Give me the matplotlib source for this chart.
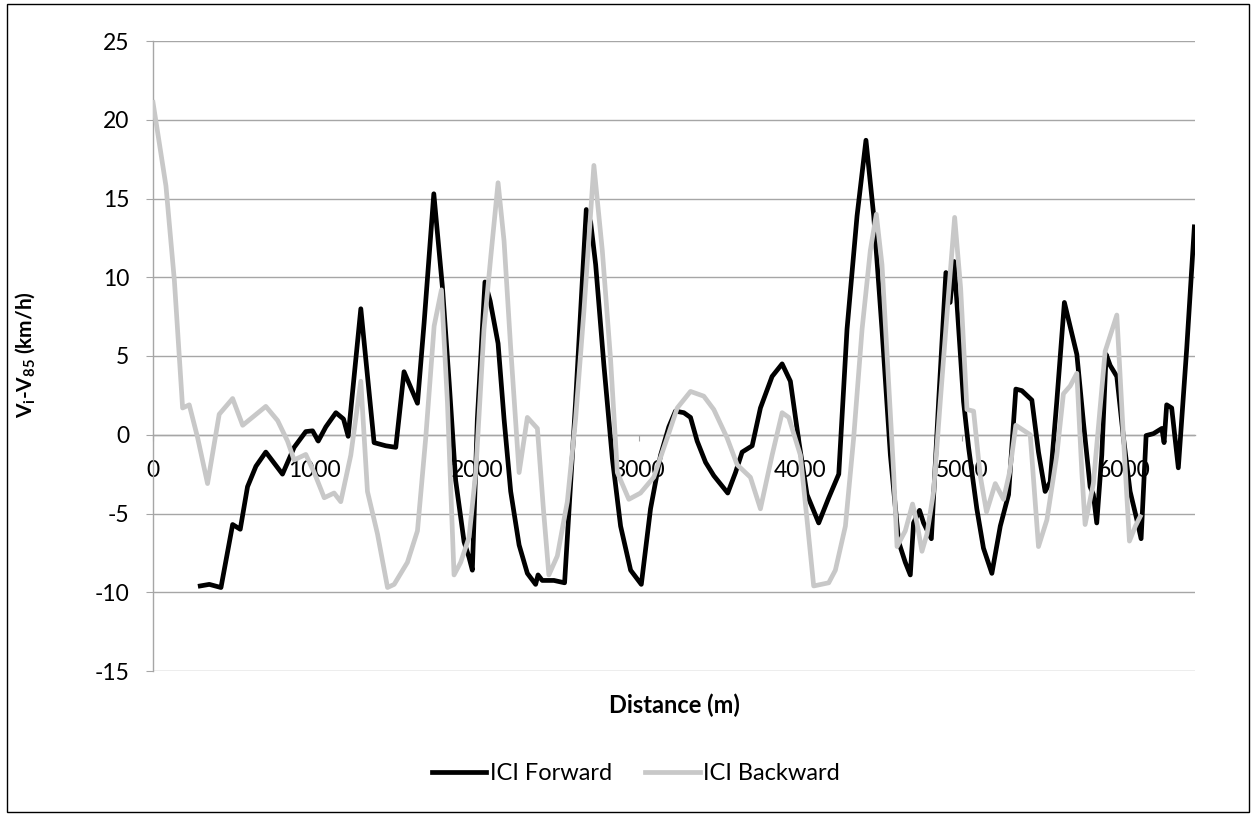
import matplotlib
matplotlib.use("Agg")
import matplotlib.pyplot as plt
from matplotlib.patches import Rectangle

# ---------------- data ----------------
fwd_x = [292, 348, 420, 492, 539, 584, 636, 697, 800, 872, 944, 986, 1021, 1068, 1130, 1177, 1206,
         1284, 1366, 1438, 1500, 1551, 1634, 1675, 1735, 1788, 1830, 1870, 1922, 1953, 1973, 2004,
         2051, 2083, 2132, 2169, 2210, 2262, 2313, 2364, 2379, 2405, 2477, 2543, 2611, 2677, 2704,
         2735, 2786, 2838, 2889, 2951, 3017, 3074, 3136, 3187, 3228, 3280, 3321, 3362, 3414, 3465,
         3551, 3599, 3640, 3702, 3753, 3825, 3887, 3938, 3990, 4041, 4113, 4175, 4237, 4288, 4350,
         4405, 4453, 4504, 4556, 4607, 4648, 4679, 4699, 4736, 4761, 4809, 4854, 4899, 4925, 4950,
         5008, 5039, 5090, 5131, 5183, 5235, 5286, 5331, 5368, 5430, 5471, 5512, 5543, 5584, 5631,
         5671, 5708, 5749, 5790, 5810, 5831, 5862, 5889, 5914, 5955, 5996, 6037, 6079, 6105, 6136,
         6181, 6233, 6247, 6263, 6294, 6335, 6387, 6434]
fwd_y = [-9.6, -9.5, -9.7, -5.7, -6.0, -3.3, -2.0, -1.1, -2.5, -0.8, 0.2, 0.25, -0.4, 0.5, 1.4, 1.0, -0.1,
         8.0, -0.5, -0.7, -0.8, 4.0, 2.0, 7.1, 15.3, 9.4, 3.3, -2.9, -6.8, -7.8, -8.6, 1.0,
         9.7, 8.5, 5.8, 1.0, -3.6, -7.0, -8.8, -9.5, -8.9, -9.25, -9.25, -9.4, 2.1, 14.3, 13.5,
         10.8, 4.4, -1.5, -5.8, -8.6, -9.5, -4.7, -1.3, 0.5, 1.5, 1.4, 1.1, -0.4, -1.75, -2.6,
         -3.7, -2.4, -1.1, -0.7, 1.7, 3.7, 4.5, 3.4, -0.4, -3.8, -5.6, -4.0, -2.5, 6.7, 13.9,
         18.7, 13.9, 6.7, -1.3, -6.8, -8.1, -8.9, -5.6, -4.8, -5.6, -6.6, 2.1, 10.3, 8.4, 11.0,
         2.1, -0.8, -4.7, -7.2, -8.8, -5.8, -3.8, 2.9, 2.8, 2.2, -1.1, -3.6, -3.0, 2.1, 8.4,
         6.7, 5.1, 0.75, -3.3, -3.8, -5.6, -1.3, 5.1, 4.4, 3.7, -0.2, -3.6, -5.4, -6.6, -0.05,
         0.07, 0.4, -0.5, 1.9, 1.7, -2.1, 5.5, 13.2]

bwd_x = [0, 80, 132, 183, 224, 276, 337, 409, 492, 554, 697, 770, 831, 872, 944, 996, 1058, 1119,
         1160, 1222, 1284, 1325, 1387, 1449, 1490, 1572, 1634, 1685, 1737, 1782, 1819, 1860, 1901,
         1953, 1994, 2045, 2086, 2132, 2169, 2210, 2262, 2313, 2375, 2412, 2446, 2498, 2560, 2611,
         2662, 2724, 2776, 2827, 2869, 2940, 3012, 3094, 3177, 3239, 3321, 3403, 3465, 3547, 3609,
         3691, 3753, 3825, 3887, 3928, 4000, 4041, 4082, 4175, 4216, 4278, 4329, 4381, 4432, 4469,
         4504, 4545, 4576, 4597, 4648, 4693, 4720, 4751, 4782, 4823, 4864, 4915, 4953, 4990, 5029,
         5070, 5111, 5150, 5204, 5255, 5292, 5331, 5420, 5471, 5523, 5584, 5625, 5667, 5708, 5739,
         5759, 5810, 5883, 5955, 5996, 6033, 6070, 6099]
bwd_y = [21.1, 15.8, 9.8, 1.7, 1.9, -0.2, -3.1, 1.3, 2.3, 0.6, 1.8, 0.9, -0.4, -1.6, -1.25, -2.4, -4.0, -3.7,
         -4.25, -1.3, 3.4, -3.6, -6.3, -9.7, -9.5, -8.1, -6.1, -0.2, 6.9, 9.2, 2.1, -8.9, -8.1,
         -6.5, -2.4, 6.7, 11.2, 16.0, 12.3, 5.5, -2.4, 1.1, 0.4, -4.7, -8.9, -7.7, -4.25, 1.0,
         7.8, 17.1, 11.7, 4.8, -2.4, -4.1, -3.7, -2.7, -0.2, 1.7, 2.75, 2.45, 1.6, -0.2, -1.9,
         -2.7, -4.7, -1.3, 1.4, 1.1, -1.3, -5.4, -9.6, -9.4, -8.6, -5.8, -0.2, 6.7, 11.7, 14.0,
         10.8, 3.3, -2.4, -7.1, -6.1, -4.4, -5.6, -7.4, -6.3, -3.6, 2.1, 8.9, 13.8, 9.3, 1.6,
         1.5, -2.6, -4.9, -3.1, -4.1, -2.4, 0.6, 0.0, -7.1, -5.4, -1.3, 2.6, 3.1, 3.9, -2.4,
         -5.7, -3.1, 5.3, 7.6, -0.2, -6.75, -5.8, -5.2]

x_ticks = [0, 1000, 2000, 3000, 4000, 5000, 6000]
y_ticks = [-15, -10, -5, 0, 5, 10, 15, 20, 25]
series_names = ["ICI Forward", "ICI Backward"]

# ---------------- style ----------------
plt.rcParams['font.family'] = ['Lato', 'DejaVu Sans']
plt.rcParams['axes.unicode_minus'] = False
plt.rcParams['mathtext.fontset'] = 'custom'
plt.rcParams['mathtext.rm'] = 'Lato:bold'
plt.rcParams['mathtext.it'] = 'Lato:bold'
plt.rcParams['mathtext.bf'] = 'Lato:bold'
plt.rcParams['mathtext.default'] = 'rm'

W, H = 1253, 816
top_px, bot_px, left_px, right_px = 41, 671, 153, 1195
fig = plt.figure(figsize=(W / 100, H / 100), dpi=100)
ax = fig.add_axes([left_px / W, 1 - bot_px / H, (right_px - left_px) / W, (bot_px - top_px) / H])

grid_c = '#A6A6A6'
ax.plot(fwd_x, fwd_y, color='black', lw=3.4, solid_joinstyle='round', label=series_names[0], zorder=3)
ax.plot(bwd_x, bwd_y, color='#C8C8C8', lw=3.4, solid_joinstyle='round', label=series_names[1], zorder=3)

ax.set_xlim(0, 6438)
ax.set_ylim(-15, 25)
ax.set_xticks(x_ticks)
ax.set_yticks(y_ticks)
ax.yaxis.grid(True, color=grid_c, lw=1.0)
ax.set_axisbelow(True)

for s in ['top', 'right']:
    ax.spines[s].set_visible(False)
ax.spines['left'].set_color(grid_c)
ax.spines['left'].set_linewidth(1.0)
ax.spines['bottom'].set_position(('data', 0))
ax.spines['bottom'].set_color(grid_c)
ax.spines['bottom'].set_linewidth(1.0)

ax.tick_params(axis='y', direction='out', length=5, color=grid_c, labelsize=16.5, pad=12, labelcolor='black')
ax.tick_params(axis='x', direction='out', length=4, color=grid_c, labelsize=16.5, pad=14, labelcolor='black')

ax.set_xlabel('Distance (m)', fontsize=17, fontweight='bold')
ax.xaxis.set_label_coords((674 - left_px) / (right_px - left_px), (bot_px - 694) / (bot_px - top_px))
ax.set_ylabel(r'V$_{i}$-V$_{85}$ (km/h)', fontsize=15, fontweight='bold')
ax.yaxis.set_label_coords((37 - left_px) / (right_px - left_px), (bot_px - 355) / (bot_px - top_px))

leg = fig.legend(loc='center', bbox_to_anchor=(636 / W, 1 - 774 / H), ncol=2, frameon=False,
                 fontsize=17, handlelength=2.3, handletextpad=0.15, columnspacing=1.4)

fig.patches.append(Rectangle((7 / W, 4 / H), (1249 - 7) / W, (812 - 4) / H, transform=fig.transFigure,
                             fill=False, edgecolor='black', lw=1.0))

fig.savefig('out.png', dpi=100)
